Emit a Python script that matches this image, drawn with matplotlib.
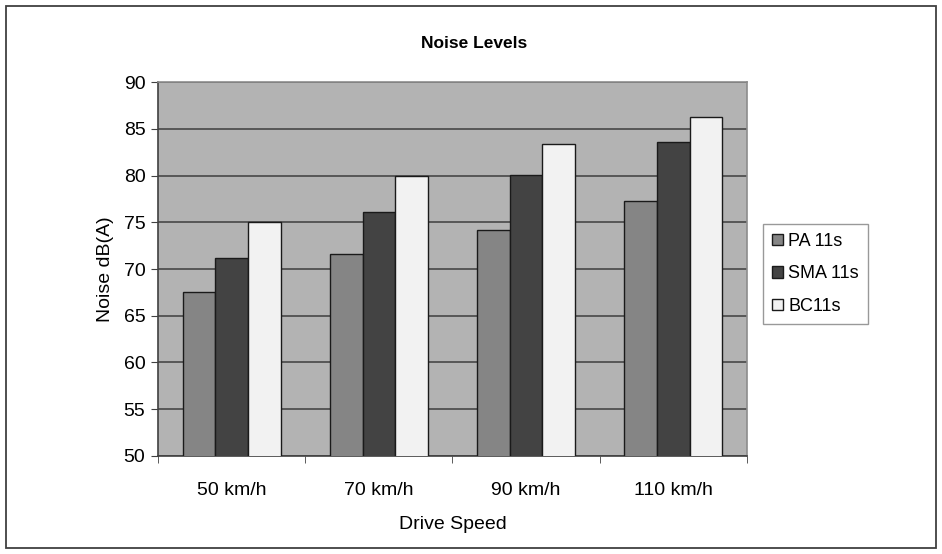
import numpy as np
import matplotlib
matplotlib.use("Agg")
import matplotlib.pyplot as plt
from matplotlib.patches import Rectangle

# noise measurements per drive speed, dB(A)
speeds = ["50 km/h", "70 km/h", "90 km/h", "110 km/h"]
series_names = ["PA 11s", "SMA 11s", "BC11s"]
pa_11s = [67.5, 71.6, 74.2, 77.3]
sma_11s = [71.2, 76.1, 80.1, 83.6]
bc_11s = [75.0, 80.0, 83.4, 86.3]
y_ticks = [50, 55, 60, 65, 70, 75, 80, 85, 90]

plt.rcParams['font.family'] = ['Liberation Sans', 'DejaVu Sans']

fig = plt.figure(figsize=(9.42, 5.54), dpi=100, facecolor='white')
ax = fig.add_axes([0.1677, 0.1774, 0.6253, 0.6740])
ax.set_facecolor('#b3b3b3')

colors = ['#858585', '#434343', '#f2f2f2']
width = 0.222
x = np.arange(len(speeds))
for i, (vals, c, name) in enumerate(zip([pa_11s, sma_11s, bc_11s], colors, series_names)):
    ax.bar(x + (i - 1) * width, vals, width, color=c, edgecolor='#1a1a1a',
           linewidth=1.0, label=name, zorder=3)

ax.set_ylim(50, 90)
ax.set_xlim(-0.5, len(speeds) - 0.5)
ax.set_yticks(y_ticks)
ax.yaxis.grid(True, color='#505050', linewidth=1.3, zorder=1)
ax.set_axisbelow(True)

ax.set_xticks(x)
ax.set_xticklabels(speeds, fontsize=14)
ax.tick_params(axis='x', which='major', length=0, pad=19)
ax.set_xticks(np.arange(-0.5, len(speeds)), minor=True)
ax.tick_params(axis='x', which='minor', length=5, color='#404040')
ax.tick_params(axis='y', labelsize=14, length=5, color='#404040', pad=4)

for side in ['top', 'right']:
    ax.spines[side].set_color('#8c8c8c')
    ax.spines[side].set_linewidth(1.2)
for side in ['left', 'bottom']:
    ax.spines[side].set_color('#404040')
    ax.spines[side].set_linewidth(1.2)

ax.set_xlabel("Drive Speed", fontsize=14, labelpad=12)
ax.set_ylabel("Noise dB(A)", fontsize=14, labelpad=7)

fig.text(474 / 942, 1 - 43 / 554, "Noise Levels", ha='center', va='center',
         fontsize=12.5, fontweight='bold')

leg = ax.legend(loc='center left', bbox_to_anchor=(1.027, 0.487), fontsize=13,
                frameon=True, fancybox=False, handlelength=0.6, handleheight=0.6,
                handletextpad=0.3, borderpad=0.5, labelspacing=0.85, borderaxespad=0)
leg.get_frame().set_edgecolor('#808080')
leg.get_frame().set_linewidth(1.0)

# outer chart border
fig.patches.append(Rectangle((6 / 942, 6 / 554), 930 / 942, 542 / 554,
                             transform=fig.transFigure, fill=False,
                             edgecolor='#404040', linewidth=1.3))

fig.savefig("out.png", dpi=100, facecolor='white')
